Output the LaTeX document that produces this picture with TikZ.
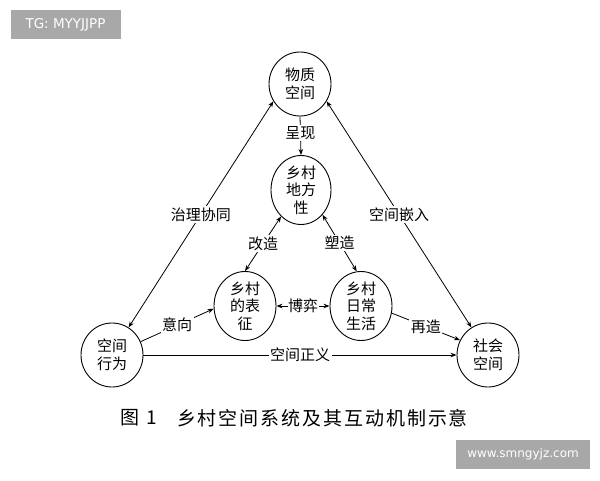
\documentclass[tikz,border=0pt]{standalone}
\usepackage{fontspec}
\newfontfamily\cjk{Noto Sans CJK SC}
\newfontfamily\wmfont{DejaVu Sans}
\usetikzlibrary{shapes.geometric,arrows.meta}
\definecolor{wmgray}{HTML}{A8A8A8}
\begin{document}
\begin{tikzpicture}[x=1pt,y=-1pt,
  circ/.style={ellipse,draw,line width=0.9pt,inner sep=0pt,minimum width=62pt,minimum height=64pt,align=center,font=\cjk\fontsize{15}{17.5}\selectfont},
  conn/.style={line width=0.8pt,-{Stealth[length=6pt,width=4.5pt]}},
  bconn/.style={line width=0.8pt,{Stealth[length=6pt,width=4.5pt]}-{Stealth[length=6pt,width=4.5pt]}},
  lab/.style={fill=white,inner sep=1.5pt,font=\cjk\fontsize{15}{17}\selectfont},
  wm/.style={fill=wmgray,text=white,inner sep=0pt},
  capfont/.style={font=\cjk\fontsize{19}{21}\selectfont,inner sep=0pt}]
\useasboundingbox[fill=white] (0,0) rectangle (600,480);
% watermarks
\node[wm,font=\wmfont\fontsize{13.5}{15}\selectfont,minimum width=110pt,minimum height=29pt] (wmtop) at (65.5,24.5) {TG: MYYJJPP};
\node[wm,font=\wmfont\fontsize{12}{14}\selectfont,minimum width=134pt,minimum height=29pt] (wmbot) at (523,454.5) {www.smngyjz.com};
% nodes
\node[circ] (wz) at (300,84) {物质\\空间};
\node[circ,minimum width=60pt,minimum height=62pt] (place) at (301,190) {乡村\\地方\\性};
\node[circ] (rep) at (245,306) {乡村\\的表\\征};
\node[circ] (daily) at (361,306) {乡村\\日常\\生活};
\node[circ] (behav) at (112,355) {空间\\行为};
\node[circ] (social) at (488,355) {社会\\空间};
% connectors
\draw[conn] (wz.south) -- node[lab,pos=0.42] (lcx) {呈现} (place.north);
\draw[bconn] (behav.59) -- node[lab] (lzl) {治理协同} (wz.213);
\draw[bconn] (social.121) -- node[lab] (lqr) {空间嵌入} (wz.327);
\draw[bconn] (rep.90) -- node[lab] (lgz) {改造} (place.233);
\draw[bconn] (daily.97) -- node[lab] (lsz) {塑造} (place.311);
\draw[bconn] (rep.east) -- node[lab,inner sep=0.5pt] (lby) {博弈} (daily.west);
\draw[conn] (behav.25) -- node[lab] (lyx) {意向} (rep.185);
\draw[conn] (daily.347) -- node[lab] (lzz) {再造} (social.152);
\draw[conn] (behav.east) -- node[lab] (lzy) {空间正义} (social.west);
% caption
\node[capfont] (capnum) at (138.5,418) {\makebox[37pt][s]{图\hfill 1}};
\node[capfont] (cap) at (322.5,418) {\makebox[291pt][s]{乡\hfill 村\hfill 空\hfill 间\hfill 系\hfill 统\hfill 及\hfill 其\hfill 互\hfill 动\hfill 机\hfill 制\hfill 示\hfill 意}};
\end{tikzpicture}
\end{document}
